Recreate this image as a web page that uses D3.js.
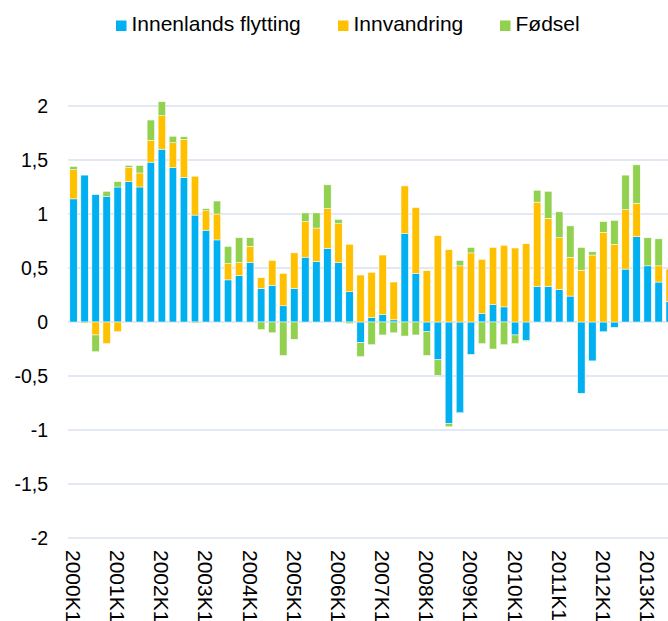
<!DOCTYPE html>
<html>
<head>
<meta charset="utf-8">
<script src="https://cdnjs.cloudflare.com/ajax/libs/d3/7.8.5/d3.min.js"></script>
<style>
  html, body { margin: 0; padding: 0; background: #fff; }
  svg { display: block; font-family: "Liberation Sans", Arial, sans-serif; }
</style>
</head>
<body>
<div id="chart"></div>
<script>
// Quarters 2000K1 .. 2013K3
const years = d3.range(2000, 2014);
const quarters = [];
years.forEach(y => [1, 2, 3, 4].forEach(q => quarters.push(y + "K" + q)));
quarters.length = 55;

const innenlands = [
  1.14, 1.36, 1.18, 1.16, 1.25, 1.30, 1.25, 1.48, 1.60, 1.43, 1.34,
  0.99, 0.85, 0.76, 0.39, 0.43, 0.55, 0.31, 0.34, 0.15, 0.31, 0.60,
  0.56, 0.68, 0.55, 0.28, -0.19, 0.04, 0.07, 0.02, 0.82, 0.45, -0.09,
  -0.35, -0.94, -0.84, -0.30, 0.08, 0.16, 0.14, -0.12, -0.17, 0.33, 0.33,
  0.30, 0.24, -0.66, -0.36, -0.09, -0.05, 0.49, 0.79, 0.52, 0.37, 0.19
];
const innvandring = [
  0.27, 0, -0.12, -0.20, -0.09, 0.13, 0.13, 0.20, 0.31, 0.23, 0.35,
  0.36, 0.18, 0.24, 0.15, 0.12, 0.15, 0.10, 0.23, 0.30, 0.33, 0.33,
  0.31, 0.37, 0.36, 0.44, 0.435, 0.42, 0.55, 0.35, 0.44, 0.61, 0.475,
  0.80, 0.67, 0.52, 0.64, 0.50, 0.53, 0.57, 0.685, 0.725, 0.78, 0.63,
  0.48, 0.36, 0.48, 0.62, 0.83, 0.72, 0.55, 0.31, 0, 0.15, 0.30
];
const fodsel = [
  0.03, -0.01, -0.155, 0.05, 0.05, 0.02, 0.07, 0.19, 0.13, 0.06, 0.025,
  -0.01, 0.02, 0.12, 0.16, 0.23, 0.08, -0.07, -0.10, -0.31, -0.16, 0.08,
  0.14, 0.22, 0.04, -0.015, -0.13, -0.21, -0.12, -0.10, -0.13, -0.12, -0.22,
  -0.145, -0.03, 0.05, 0.05, -0.20, -0.25, -0.21, -0.08, -0.01, 0.11, 0.25,
  0.24, 0.29, 0.21, 0.03, 0.10, 0.22, 0.32, 0.355, 0.26, 0.25, 0
];

const seriesNames = ["Innenlands flytting", "Innvandring", "Fødsel"];
const colors = ["#00b0f0", "#ffc000", "#92d050"];
const yTicks = [2, 1.5, 1, 0.5, 0, -0.5, -1, -1.5, -2];

function drawChart() {
  const W = 668, H = 621;

  const svg = d3.select("#chart")
    .append("svg")
    .attr("width", W)
    .attr("height", H);

  const table = quarters.map((q, i) => ({
    q: q,
    "Innenlands flytting": innenlands[i],
    "Innvandring": innvandring[i],
    "Fødsel": fodsel[i]
  }));

  const x = d3.scaleBand()
    .domain(quarters)
    .range([68, 68 + quarters.length * 11.04])
    .paddingInner(0.33)
    .paddingOuter(0.165);

  const y = d3.scaleLinear()
    .domain([-2, 2])
    .range([538, 106]);

  // grid
  svg.append("g")
    .selectAll("line")
    .data(yTicks)
    .join("line")
    .attr("x1", 68)
    .attr("x2", W)
    .attr("y1", d => y(d))
    .attr("y2", d => y(d))
    .attr("stroke", "#d9e2f1")
    .attr("stroke-width", 1.6);

  // y labels
  svg.append("g")
    .selectAll("text")
    .data(yTicks)
    .join("text")
    .attr("x", 48)
    .attr("y", d => y(d))
    .attr("dy", "0.36em")
    .attr("text-anchor", "end")
    .style("font-size", "19.5px")
    .attr("fill", "#000")
    .text(d => String(d).replace(".", ","));

  // stacked bars
  const stack = d3.stack()
    .keys(seriesNames)
    .offset(d3.stackOffsetDiverging);
  const layers = stack(table);

  svg.append("g")
    .selectAll("g")
    .data(layers)
    .join("g")
    .attr("fill", (d, i) => colors[i])
    .selectAll("rect")
    .data(d => d)
    .join("rect")
    .attr("x", d => x(d.data.q))
    .attr("width", x.bandwidth())
    .attr("y", d => y(Math.max(d[0], d[1])))
    .attr("height", d => Math.abs(y(d[0]) - y(d[1])))
    .attr("stroke", "#fff")
    .attr("stroke-width", 0.5);

  // x labels, one per year
  svg.append("g")
    .selectAll("text")
    .data(quarters.filter(q => q.endsWith("K1")))
    .join("text")
    .attr("transform", d => `translate(${x(d) + x.bandwidth() / 2},550) rotate(90)`)
    .attr("dy", "0.36em")
    .style("font-size", "21px")
    .attr("fill", "#000")
    .text(d => d);

  // legend
  const legendX = [116, 338, 500];
  const legend = svg.append("g");
  seriesNames.forEach((name, i) => {
    legend.append("rect")
      .attr("x", legendX[i])
      .attr("y", 20.5)
      .attr("width", 10.5)
      .attr("height", 10.5)
      .attr("fill", colors[i]);
    legend.append("text")
      .attr("x", legendX[i] + 15.5)
      .attr("y", 31)
      .style("font-size", "21px")
      .attr("fill", "#000")
      .text(name);
  });
}

if (document.readyState === "loading") {
  document.addEventListener("DOMContentLoaded", drawChart);
} else {
  drawChart();
}
</script>
</body>
</html>
